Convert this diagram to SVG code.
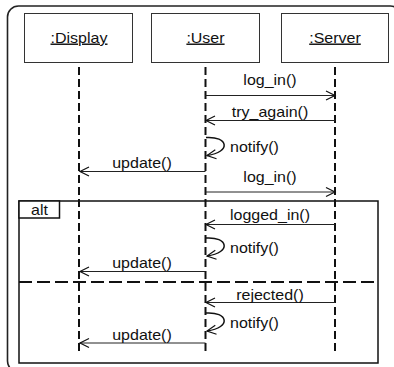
<svg xmlns="http://www.w3.org/2000/svg" width="394" height="367" viewBox="0 0 394 367">
<style>
.t{font-family:"Liberation Sans",Arial,sans-serif;font-size:14.5px;fill:#111;}
.box{fill:#fff;stroke:#333;stroke-width:1;}
.life{stroke:#111;stroke-width:2;stroke-dasharray:8 4;fill:none;}
.msg{stroke:#222;stroke-width:1;fill:none;marker-end:url(#open);}
.loop{stroke:#111;stroke-width:1.5;fill:none;marker-end:url(#open);}
</style>
<defs>
<marker id="open" markerUnits="userSpaceOnUse" viewBox="0 0 9 10" refX="9" refY="5" markerWidth="9" markerHeight="10" orient="auto" overflow="visible">
<path d="M0,0.5 L9,5 L0,9.5" fill="none" stroke="#111" stroke-width="1.2"/>
</marker>
</defs>
<rect x="0" y="0" width="394" height="367" fill="#fff"/>
<rect id="frame" x="7.5" y="6" width="394" height="366" rx="11" fill="none" stroke="#222" stroke-width="1.6"/>
<g id="alt">
<rect x="19" y="201" width="359" height="162" fill="none" stroke="#111" stroke-width="1.5"/>
<rect x="19" y="201" width="40.5" height="17" fill="#fff" stroke="#111" stroke-width="1.5"/>
<text class="t" x="39.5" y="215" text-anchor="middle" textLength="16.9" lengthAdjust="spacingAndGlyphs">alt</text>
<line x1="19" y1="282" x2="378" y2="282" stroke="#111" stroke-width="2" stroke-dasharray="13 5"/>
</g>
<g id="display">
<rect class="box" x="24.5" y="13.5" width="108" height="49"/>
<text class="t" x="79" y="42.5" text-anchor="middle" text-decoration="underline" textLength="57" lengthAdjust="spacingAndGlyphs">:Display</text>
<line class="life" x1="79" y1="67" x2="79" y2="354"/>
</g>
<g id="user">
<rect class="box" x="151.5" y="13.5" width="108" height="49"/>
<text class="t" x="205.5" y="42.5" text-anchor="middle" text-decoration="underline" textLength="38.2" lengthAdjust="spacingAndGlyphs">:User</text>
<line class="life" x1="205.5" y1="67" x2="205.5" y2="354"/>
</g>
<g id="server">
<rect class="box" x="281.5" y="13.5" width="107" height="49"/>
<text class="t" x="335" y="42.5" text-anchor="middle" text-decoration="underline" textLength="51.6" lengthAdjust="spacingAndGlyphs">:Server</text>
<line class="life" x1="335" y1="67" x2="335" y2="354"/>
</g>
<g id="connectors">
<path class="msg" d="M205.5,95.5 H335"/>
<text class="t" x="270" y="84.5" text-anchor="middle" textLength="53.3" lengthAdjust="spacingAndGlyphs">log_in()</text>
<path class="msg" d="M335,120.5 H206"/>
<text class="t" x="270" y="117" text-anchor="middle" textLength="76.5" lengthAdjust="spacingAndGlyphs">try_again()</text>
<path class="loop" d="M206,137.5 C228,136 232,152 207,155.5"/>
<text class="t" x="230" y="152" textLength="48.9" lengthAdjust="spacingAndGlyphs">notify()</text>
<path class="msg" d="M205.5,171.5 H80"/>
<text class="t" x="142" y="168" text-anchor="middle" textLength="59.6" lengthAdjust="spacingAndGlyphs">update()</text>
<path class="msg" d="M205.5,192 H335"/>
<text class="t" x="270" y="182" text-anchor="middle" textLength="53.3" lengthAdjust="spacingAndGlyphs">log_in()</text>
<path class="msg" d="M335,224.5 H206"/>
<text class="t" x="270" y="220" text-anchor="middle" textLength="80" lengthAdjust="spacingAndGlyphs">logged_in()</text>
<path class="loop" d="M206,238 C228,236.5 232,252.5 207,256"/>
<text class="t" x="230" y="252.5" textLength="48.9" lengthAdjust="spacingAndGlyphs">notify()</text>
<path class="msg" d="M205.5,271.5 H80"/>
<text class="t" x="142" y="268" text-anchor="middle" textLength="59.6" lengthAdjust="spacingAndGlyphs">update()</text>
<path class="msg" d="M335,302.5 H206"/>
<text class="t" x="270" y="299.5" text-anchor="middle" textLength="67.6" lengthAdjust="spacingAndGlyphs">rejected()</text>
<path class="loop" d="M206,313 C228,311.5 232,327.5 207,331"/>
<text class="t" x="230" y="328" textLength="48.9" lengthAdjust="spacingAndGlyphs">notify()</text>
<path class="msg" d="M205.5,343 H80"/>
<text class="t" x="142" y="339.5" text-anchor="middle" textLength="59.6" lengthAdjust="spacingAndGlyphs">update()</text>
</g>
</svg>
